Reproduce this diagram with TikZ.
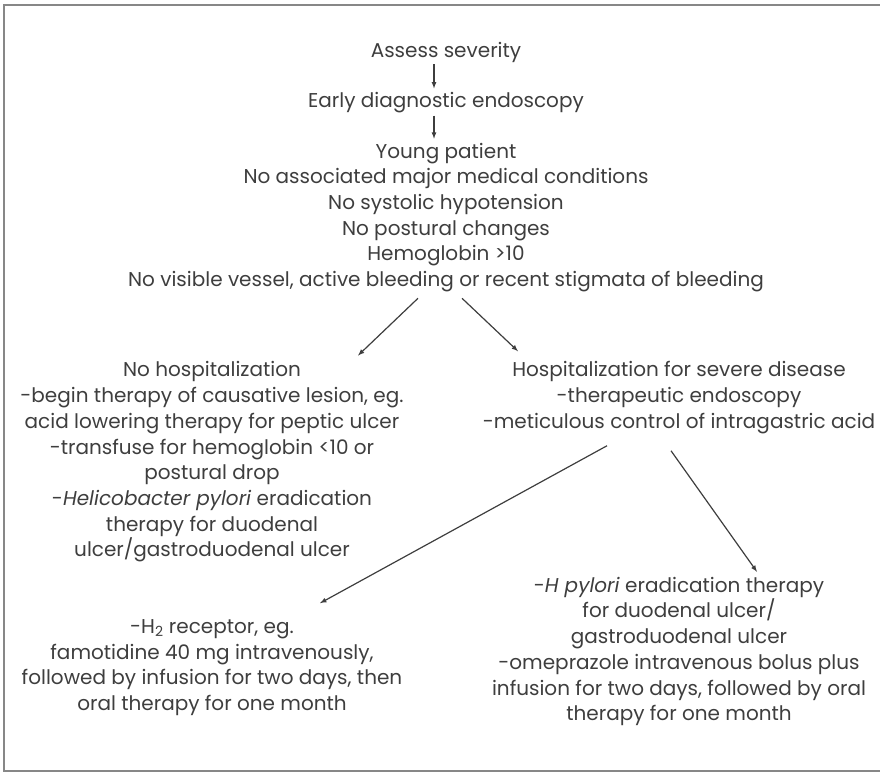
\documentclass[tikz,border=0pt]{standalone}
\usepackage{fontspec}
\setmainfont{Poppins}
\usepackage{tikz}
\usetikzlibrary{positioning,arrows}
\definecolor{inkgray}{RGB}{62,62,62}
\definecolor{framegray}{RGB}{135,135,135}

\begin{document}
\begin{tikzpicture}[x=1pt,y=-1pt,
  txt/.style={align=center,inner sep=0pt,text=inkgray,font=\fontsize{20}{25.7}\selectfont},
  arr/.style={->,>=latex,draw=inkgray,line width=1.2pt}]
\useasboundingbox (0,0) rectangle (880,774);
\draw[framegray,line width=1.5pt] (880,5) -- (4,5) -- (4,771) -- (880,771);
\node[txt] (assess) at (446,52) {Assess severity};
\node[txt] (early) at (446,103) {Early diagnostic endoscopy};
\node[txt] (crit) at (446,217.5) {Young patient\\ No associated major medical conditions\\ No systolic hypotension\\ No postural changes\\ Hemoglobin >10\\ No visible vessel, active bleeding or recent stigmata of bleeding};
\node[txt] (nohosp) at (212,462) {No hospitalization\\ -begin therapy of causative lesion, eg.\\ acid lowering therapy for peptic ulcer\\ -transfuse for hemoglobin <10 or\\ postural drop\\ -\textit{Helicobacter pylori} eradication\\ therapy for duodenal\\ ulcer/gastroduodenal ulcer};
\node[txt] (hosp) at (679,397.5) {Hospitalization for severe disease\\ -therapeutic endoscopy\\ -meticulous control of intragastric acid};
\node[txt] (htwo) at (212,667.5) {-H\textsubscript{2} receptor, eg.\\ famotidine 40 mg intravenously,\\ followed by infusion for two days, then\\ oral therapy for one month};
\node[txt] (hpy) at (679,651.5) {-\textit{H pylori} eradication therapy\\ for duodenal ulcer/\\ gastroduodenal ulcer\\ -omeprazole intravenous bolus plus\\ infusion for two days, followed by oral\\ therapy for one month};
\draw[arr] ([xshift=-12pt,yshift=-2pt]assess.south) -- ([xshift=-12pt,yshift=4pt]early.north);
\draw[arr] ([xshift=-12pt,yshift=-2pt]early.south) -- ([xshift=-12pt,yshift=4pt]crit.north);
\draw[arr] ([xshift=-28pt,yshift=-6pt]crit.south) -- ([xshift=146pt,yshift=6pt]nohosp.north);
\draw[arr] ([xshift=16pt,yshift=-6pt]crit.south) -- ([xshift=-161pt,yshift=10pt]hosp.north);
\draw[arr] ([xshift=-72pt,yshift=-12pt]hosp.south) -- ([xshift=108pt,yshift=16pt]htwo.north);
\draw[arr] ([xshift=-8pt,yshift=-17pt]hosp.south) -- ([xshift=78pt,yshift=5pt]hpy.north);
\end{tikzpicture}
\end{document}
